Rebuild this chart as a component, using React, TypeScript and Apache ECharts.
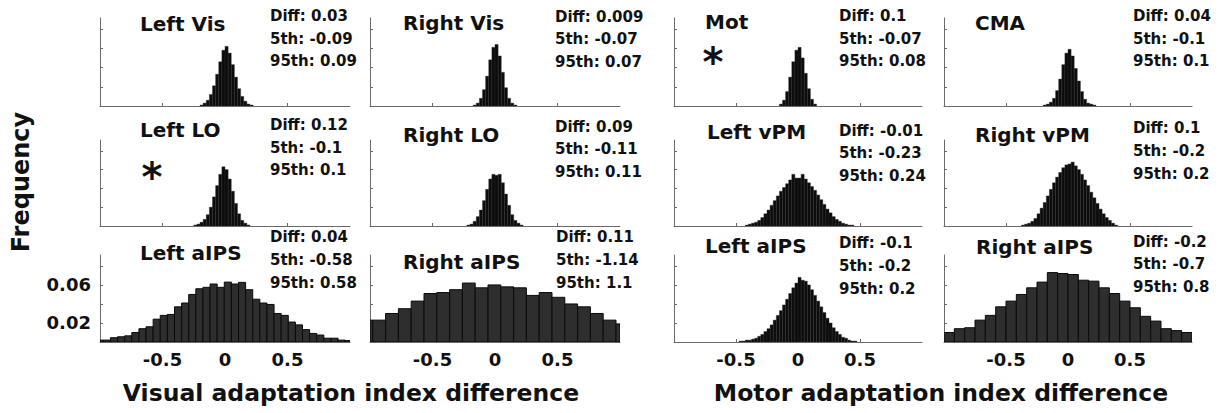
import React, { useEffect, useRef } from 'react';
import * as echarts from 'echarts';

// ---------- DATA ----------
const panelNames = ['Left Vis', 'Right Vis', 'Mot', 'CMA', 'Left LO', 'Right LO', 'Left vPM', 'Right vPM', 'Left aIPS', 'Right aIPS', 'Left aIPS', 'Right aIPS'];
const diffValues = ['0.03', '0.009', '0.1', '0.04', '0.12', '0.09', '-0.01', '0.1', '0.04', '0.11', '-0.1', '-0.2'];
const p5Values = ['-0.09', '-0.07', '-0.07', '-0.1', '-0.1', '-0.11', '-0.23', '-0.2', '-0.58', '-1.14', '-0.2', '-0.7'];
const p95Values = ['0.09', '0.07', '0.08', '0.1', '0.1', '0.11', '0.24', '0.2', '0.58', '1.1', '0.2', '0.8'];
const significant = [false, false, true, false, true, false, false, false, false, false, false, false];

const binStarts = [-0.2, -0.175, -0.15, -0.2, -0.25, -0.225, -0.425, -0.375, -1.03, -1.08, -0.475, -1];
const binWidths = [0.025, 0.025, 0.025, 0.025, 0.025, 0.025, 0.025, 0.025, 0.0569, 0.1024, 0.025, 1 / 12];

const leftVisFreq = [0.001, 0.003, 0.006, 0.012, 0.021, 0.033, 0.046, 0.058, 0.062, 0.055, 0.043, 0.030, 0.018, 0.010, 0.005, 0.002, 0.001];
const rightVisFreq = [0.001, 0.003, 0.008, 0.017, 0.031, 0.048, 0.061, 0.064, 0.052, 0.035, 0.019, 0.008, 0.003, 0.001];
const motFreq = [0.002, 0.006, 0.015, 0.030, 0.046, 0.058, 0.061, 0.050, 0.034, 0.018, 0.007, 0.002];
const cmaFreq = [0.001, 0.002, 0.004, 0.008, 0.016, 0.028, 0.043, 0.055, 0.059, 0.052, 0.039, 0.026, 0.015, 0.007, 0.003, 0.002, 0.001];
const leftLoFreq = [0.001, 0.002, 0.004, 0.007, 0.012, 0.020, 0.031, 0.043, 0.055, 0.063, 0.060, 0.050, 0.037, 0.024, 0.013, 0.006, 0.003, 0.001];
const rightLoFreq = [0.001, 0.002, 0.005, 0.010, 0.017, 0.027, 0.039, 0.050, 0.055, 0.054, 0.055, 0.046, 0.034, 0.022, 0.012, 0.006, 0.003, 0.001];
const leftVpmFreq = [0.001, 0.002, 0.003, 0.004, 0.006, 0.009, 0.013, 0.017, 0.022, 0.027, 0.032, 0.037, 0.041, 0.045, 0.049, 0.055, 0.051, 0.051, 0.055, 0.050, 0.046, 0.042, 0.038, 0.033, 0.028, 0.023, 0.018, 0.014, 0.010, 0.007, 0.005, 0.003, 0.002, 0.001, 0.001];
const rightVpmFreq = [0.001, 0.002, 0.003, 0.005, 0.008, 0.013, 0.019, 0.025, 0.032, 0.039, 0.046, 0.052, 0.057, 0.062, 0.065, 0.066, 0.068, 0.064, 0.060, 0.055, 0.049, 0.043, 0.036, 0.030, 0.024, 0.018, 0.013, 0.009, 0.006, 0.003, 0.001];
const leftAipsVisFreq = [0.002, 0.002, 0.0045, 0.0055, 0.0065, 0.010, 0.014, 0.016, 0.024, 0.028, 0.029, 0.037, 0.041, 0.050, 0.056, 0.0575, 0.061, 0.0575, 0.063, 0.061, 0.0627, 0.055, 0.045, 0.041, 0.0395, 0.030, 0.028, 0.021, 0.018, 0.013, 0.009, 0.0073, 0.004, 0.004, 0.002, 0.0015];
const rightAipsVisFreq = [0.023, 0.023, 0.030, 0.035, 0.043, 0.051, 0.052, 0.055, 0.062, 0.057, 0.060, 0.058, 0.057, 0.049, 0.052, 0.047, 0.040, 0.037, 0.030, 0.023, 0.019];
const leftAipsMotFreq = [0.001, 0.001, 0.002, 0.002, 0.003, 0.004, 0.006, 0.008, 0.011, 0.014, 0.018, 0.023, 0.028, 0.033, 0.039, 0.045, 0.051, 0.057, 0.062, 0.068, 0.065, 0.064, 0.060, 0.055, 0.049, 0.043, 0.037, 0.031, 0.025, 0.020, 0.015, 0.011, 0.008, 0.005, 0.004, 0.002, 0.001, 0.001];
const rightAipsMotFreq = [0.010, 0.014, 0.015, 0.023, 0.028, 0.037, 0.043, 0.050, 0.057, 0.063, 0.073, 0.072, 0.071, 0.065, 0.064, 0.057, 0.051, 0.043, 0.036, 0.027, 0.022, 0.014, 0.012, 0.010];

const panelFreqs = [leftVisFreq, rightVisFreq, motFreq, cmaFreq, leftLoFreq, rightLoFreq, leftVpmFreq, rightVpmFreq, leftAipsVisFreq, rightAipsVisFreq, leftAipsMotFreq, rightAipsMotFreq];

const xTickValues = [-0.5, 0, 0.5];
const yTickValues = [0.02, 0.04, 0.06, 0.08];
const yLabelValues = [0.02, 0.06];
const xMin = -1;
const xMax = 1;
const yMax = 0.0915;

const xAxisTitles = ['Visual adaptation index difference', 'Motor adaptation index difference'];
const yAxisTitle = 'Frequency';

// ---------- LAYOUT ----------
const COL_LEFT = [100, 370, 674, 944];
const COL_WIDTH = [250, 250, 248, 248];
const ROW_TOP = [18, 140, 255];
const ROW_HEIGHT = [88, 86, 87];
const TITLE_POS = [[140, 24], [403, 23], [705, 22], [975, 23], [140, 130], [403, 135], [707, 132], [975, 135], [140, 253], [403, 262], [705, 246], [976, 247]];
const DIFF_POS = [[270, 16], [555, 16.7], [839, 16], [1133, 16], [270, 125], [555, 126.7], [839, 130.7], [1133, 128.3], [270, 237.3], [556, 237.3], [839, 243.3], [1133, 241.7]];
const DIFF_STEP = 22.7;
const STAR_POS: Record<number, number[]> = { 2: [713, 62], 4: [152, 177] };
const FONT = '"DejaVu Sans", "Liberation Sans", Arial, sans-serif';

export default function App() {
  const ref = useRef<HTMLDivElement>(null);
  useEffect(() => {
    if (!ref.current) return;
    const chart = echarts.init(ref.current, null, { renderer: 'svg' });

    const grids: any[] = [];
    const xAxes: any[] = [];
    const yAxes: any[] = [];
    const series: any[] = [];
    const graphics: any[] = [];

    panelFreqs.forEach((freqs, i) => {
      const row = Math.floor(i / 4);
      const col = i % 4;
      grids.push({ left: COL_LEFT[col], top: ROW_TOP[row], width: COL_WIDTH[col], height: ROW_HEIGHT[row] });
      xAxes.push({
        type: 'value', gridIndex: i, min: xMin, max: xMax,
        axisLine: { show: true, onZero: false, lineStyle: { color: '#6a6a6a', width: 1 } },
        axisTick: { show: true, inside: true, length: 3, customValues: xTickValues, lineStyle: { color: '#6a6a6a' } },
        axisLabel: {
          show: row === 2, customValues: xTickValues, margin: 8,
          fontFamily: FONT, fontWeight: 'bold', fontSize: 18, color: '#111',
        },
        splitLine: { show: false },
      });
      yAxes.push({
        type: 'value', gridIndex: i, min: 0, max: yMax,
        axisLine: { show: true, onZero: false, lineStyle: { color: '#6a6a6a', width: 1 } },
        axisTick: { show: true, inside: true, length: 3, customValues: yTickValues, lineStyle: { color: '#6a6a6a' } },
        axisLabel: {
          show: i === 8, customValues: yLabelValues, margin: 9,
          fontFamily: FONT, fontWeight: 'bold', fontSize: 18, color: '#111',
        },
        splitLine: { show: false },
      });
      const w = binWidths[i];
      const wide = w > 0.05;
      const data = freqs.map((f, k) => [binStarts[i] + k * w, binStarts[i] + (k + 1) * w, f]);
      series.push({
        type: 'custom', xAxisIndex: i, yAxisIndex: i, clip: true,
        encode: { x: [0, 1], y: 2 },
        data,
        renderItem: (params: any, api: any) => {
          const lo = Math.max(api.value(0), xMin);
          const hi = Math.min(api.value(1), xMax);
          if (hi <= lo) return null;
          const p0 = api.coord([lo, api.value(2)]);
          const p1 = api.coord([hi, 0]);
          return {
            type: 'rect',
            shape: { x: p0[0], y: p0[1], width: p1[0] - p0[0], height: p1[1] - p0[1] },
            style: wide
              ? { fill: '#2e2e2e', stroke: '#0a0a0a', lineWidth: 1 }
              : { fill: '#0c0c0c', stroke: '#2a2a2a', lineWidth: 0.4 },
          };
        },
      });

      graphics.push({
        type: 'text', x: TITLE_POS[i][0], y: TITLE_POS[i][1],
        style: { text: panelNames[i], font: `bold 20px ${FONT}`, fill: '#111', align: 'left', verticalAlign: 'middle' },
      });
      const lines = [`Diff: ${diffValues[i]}`, `5th: ${p5Values[i]}`, `95th: ${p95Values[i]}`];
      lines.forEach((t, k) => {
        graphics.push({
          type: 'text', x: DIFF_POS[i][0], y: DIFF_POS[i][1] + k * DIFF_STEP,
          style: { text: t, font: `bold 15px ${FONT}`, fill: '#111', align: 'left', verticalAlign: 'middle' },
        });
      });
      if (significant[i] && STAR_POS[i]) {
        graphics.push({
          type: 'text', x: STAR_POS[i][0], y: STAR_POS[i][1],
          style: { text: '*', font: `bold 40px ${FONT}`, fill: '#111', align: 'center', verticalAlign: 'middle' },
        });
      }
    });

    graphics.push({
      type: 'text', x: 351, y: 393,
      style: { text: xAxisTitles[0], font: `bold 23.5px ${FONT}`, fill: '#111', align: 'center', verticalAlign: 'middle' },
    });
    graphics.push({
      type: 'text', x: 941, y: 393,
      style: { text: xAxisTitles[1], font: `bold 23.5px ${FONT}`, fill: '#111', align: 'center', verticalAlign: 'middle' },
    });
    graphics.push({
      type: 'text', x: 21, y: 182, rotation: Math.PI / 2,
      style: { text: yAxisTitle, font: `bold 24px ${FONT}`, fill: '#111', align: 'center', verticalAlign: 'middle' },
    });

    chart.setOption({
      animation: false,
      backgroundColor: '#ffffff',
      grid: grids,
      xAxis: xAxes,
      yAxis: yAxes,
      series,
      graphic: graphics,
    });
    return () => chart.dispose();
  }, []);
  return <div ref={ref} style={{ position: 'absolute', left: 0, top: 0, width: 1225, height: 413 }} />;
}
